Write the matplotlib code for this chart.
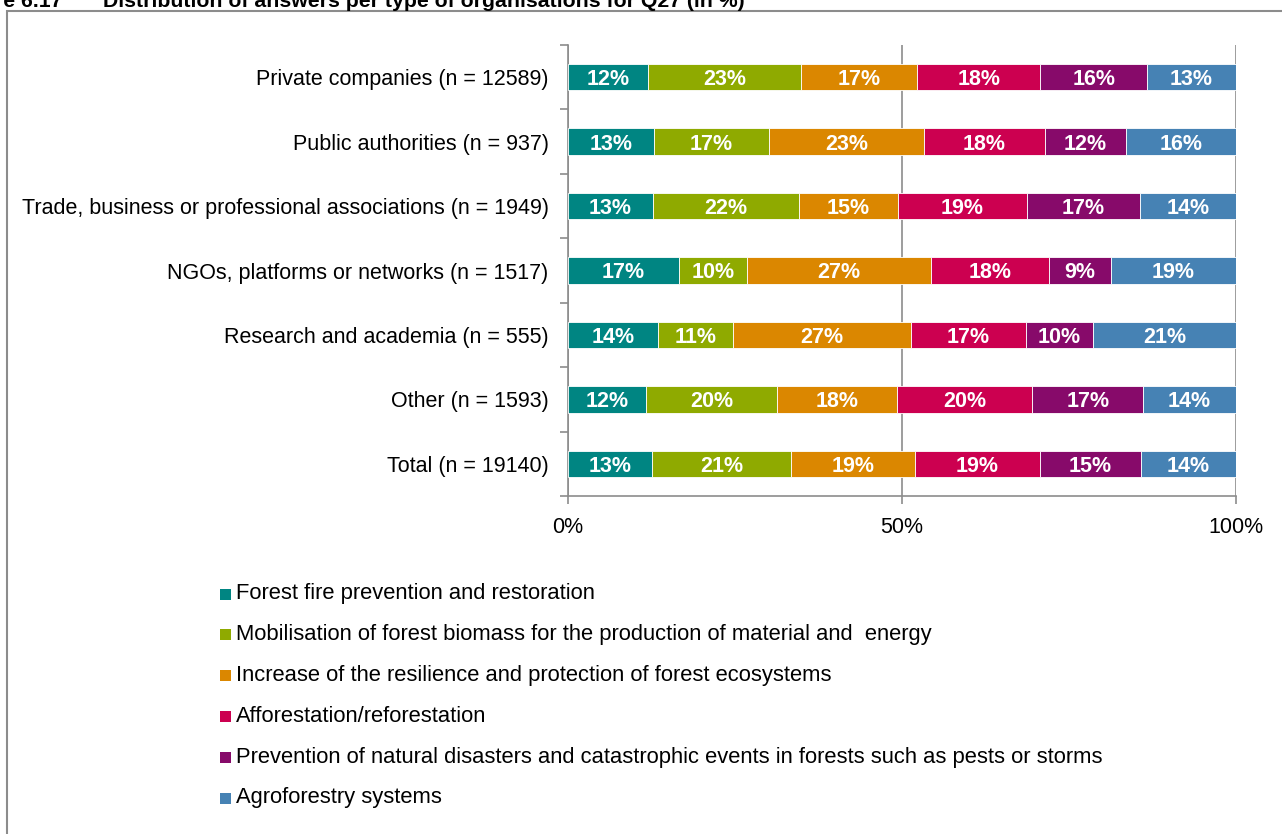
import matplotlib
matplotlib.use("Agg")
import matplotlib.pyplot as plt
from matplotlib.patches import Rectangle
import numpy as np

plt.rcParams['font.family'] = ['Liberation Sans', 'DejaVu Sans']

categories = [
    "Private companies (n = 12589)",
    "Public authorities (n = 937)",
    "Trade, business or professional associations (n = 1949)",
    "NGOs, platforms or networks (n = 1517)",
    "Research and academia (n = 555)",
    "Other (n = 1593)",
    "Total (n = 19140)",
]
series_names = [
    "Forest fire prevention and restoration",
    "Mobilisation of forest biomass for the production of material and  energy",
    "Increase of the resilience and protection of forest ecosystems",
    "Afforestation/reforestation",
    "Prevention of natural disasters and catastrophic events in forests such as pests or storms",
    "Agroforestry systems",
]
fire = [12.0, 12.9, 12.7, 16.6, 13.5, 11.7, 12.6]
biomass = [22.9, 17.2, 21.9, 10.2, 11.2, 19.6, 20.8]
resilience = [17.4, 23.2, 14.8, 27.5, 26.6, 18.0, 18.6]
afforestation = [18.4, 18.1, 19.3, 17.7, 17.3, 20.2, 18.6]
disasters = [16.0, 12.1, 16.9, 9.3, 10.0, 16.6, 15.2]
agroforestry = [13.3, 16.5, 14.4, 18.7, 21.4, 13.9, 14.2]
labels_fire = ["12%", "13%", "13%", "17%", "14%", "12%", "13%"]
labels_biomass = ["23%", "17%", "22%", "10%", "11%", "20%", "21%"]
labels_resilience = ["17%", "23%", "15%", "27%", "27%", "18%", "19%"]
labels_afforestation = ["18%", "18%", "19%", "18%", "17%", "20%", "19%"]
labels_disasters = ["16%", "12%", "17%", "9%", "10%", "17%", "15%"]
labels_agroforestry = ["13%", "16%", "14%", "19%", "21%", "14%", "14%"]
x_ticks = [0, 50, 100]
x_ticklabels = ["0%", "50%", "100%"]

colors = ["#008582", "#8FAA00", "#DB8700", "#CC0050", "#870A6A", "#4682B4"]

values = [fire, biomass, resilience, afforestation, disasters, agroforestry]
labels = [labels_fire, labels_biomass, labels_resilience, labels_afforestation,
          labels_disasters, labels_agroforestry]

W, H = 1282, 834
FS = 15.5
fig = plt.figure(figsize=(W / 100, H / 100), dpi=100)

# frame border
fig.add_artist(Rectangle((7 / W, -0.1), 1.5, 1 - 11 / H + 0.1, transform=fig.transFigure,
                         fill=False, edgecolor="#8c8c8c", linewidth=1.5))
# clipped title (partly outside the picture, as in the reference)
fig.text(62 / W, 1 - 7 / H, "Figure 6.17", fontsize=15.3, fontweight="bold", va="baseline", ha="right")
fig.text(103 / W, 1 - 7 / H, "Distribution of answers per type of organisations for Q27 (in %)",
         fontsize=15.3, fontweight="bold", va="baseline", ha="left")

ax_left, ax_right = 568 / W, 1236 / W
ax_top, ax_bot = 45 / H, 496 / H
ax = fig.add_axes([ax_left, 1 - ax_bot, ax_right - ax_left, ax_bot - ax_top])

y = np.arange(len(categories))
left = np.zeros(len(categories))
for vals, labs, col in zip(values, labels, colors):
    vals = np.array(vals)
    ax.barh(y, vals, left=left, height=0.41, color=col, edgecolor="white", linewidth=0.6, zorder=3)
    for yi, l, v, t in zip(y, left, vals, labs):
        ax.text(l + v / 2, yi, t, ha="center", va="center_baseline", color="white",
                fontsize=FS, fontweight="bold", zorder=4)
    left += vals

ax.set_xlim(0, 100)
ax.set_ylim(len(categories) - 0.5, -0.5)
ax.set_yticks(y)
ax.set_yticklabels(categories, fontsize=FS)
ax.set_yticks(np.arange(-0.5, len(categories), 1), minor=True)
ax.tick_params(axis="y", which="major", length=0, pad=14)
ax.tick_params(axis="y", which="minor", length=6, color="#8c8c8c", width=1.2)
ax.set_xticks(x_ticks)
ax.set_xticklabels(x_ticklabels, fontsize=FS)
ax.tick_params(axis="x", length=6, color="#8c8c8c", width=1.2, pad=9)
ax.xaxis.grid(True, color="#8c8c8c", linewidth=1.2, zorder=0)
for s in ["top", "right"]:
    ax.spines[s].set_visible(False)
for s in ["left", "bottom"]:
    ax.spines[s].set_color("#8c8c8c")
    ax.spines[s].set_linewidth(1.2)

# legend
leg_x = 220 / W
for i, (name, col) in enumerate(zip(series_names, colors)):
    yc = 1 - (594 + i * 40.8) / H
    fig.add_artist(Rectangle((leg_x, yc - 5.5 / H), 11 / W, 11 / H, transform=fig.transFigure,
                             facecolor=col, edgecolor="none"))
    fig.text(leg_x + 16 / W, yc, name, fontsize=15.8, va="center", ha="left")

fig.savefig("out.png", dpi=100)
